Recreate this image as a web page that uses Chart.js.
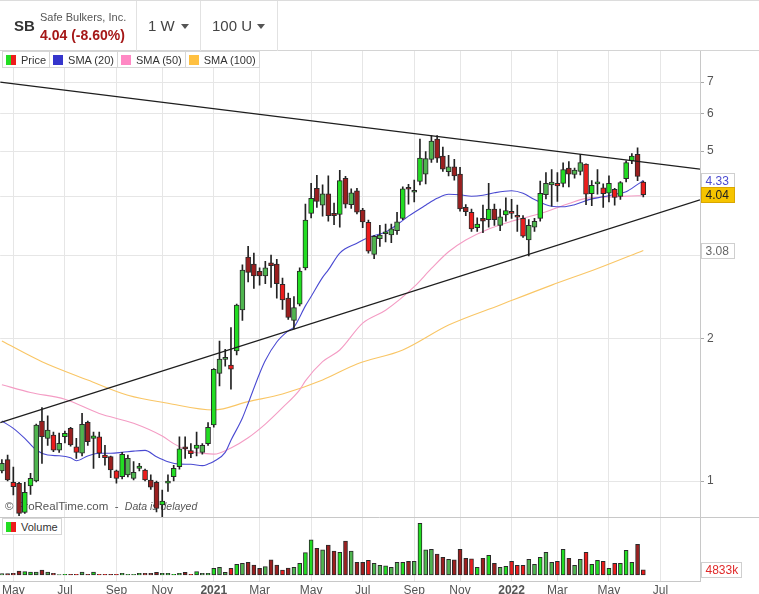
<!DOCTYPE html>
<html><head><meta charset="utf-8">
<script src="https://cdn.jsdelivr.net/npm/chart.js@4.4.1/dist/chart.umd.min.js"></script>
<style>
html,body{margin:0;padding:0;background:#fff;}
body{width:759px;height:594px;position:relative;overflow:hidden;font-family:"Liberation Sans",Arial,sans-serif;}
#c{position:absolute;left:0;top:0;}
.abs{position:absolute;white-space:nowrap;}
#hdr{position:absolute;left:0;top:0;width:759px;height:51px;box-sizing:border-box;border-top:1px solid #dcdcdc;border-bottom:1px solid #d4d4d4;background:#fff;}
.sep{position:absolute;top:0;width:1px;height:50px;background:#e2e2e2;}
.caret{position:absolute;width:0;height:0;border-left:4px solid transparent;border-right:4px solid transparent;border-top:5px solid #555;}
.leg{position:absolute;display:flex;border:1px solid #d6d6d6;background:#fff;font-size:11px;color:#333;height:15px;}
.it{display:flex;align-items:center;padding:0 3px 0 3px;border-left:1px solid #d6d6d6;height:15px;}
.it:first-child{border-left:none;}
.sw{display:inline-block;width:10px;height:10px;margin-right:5px;}
</style></head><body>
<canvas id="c" width="759" height="594"></canvas>

<div id="hdr">
  <div class="abs" style="left:14px;top:16px;font-size:15px;font-weight:bold;color:#333;">SB</div>
  <div class="abs" style="left:40px;top:10px;font-size:11px;color:#555;">Safe Bulkers, Inc.</div>
  <div class="abs" id="chg" style="left:40px;top:26px;font-size:14px;font-weight:bold;color:#a51717;"></div>
  <div class="sep" style="left:136px;"></div>
  <div class="abs" style="left:148px;top:16px;font-size:15px;color:#444;">1 W</div>
  <div class="caret" style="left:181px;top:23px;"></div>
  <div class="sep" style="left:200px;"></div>
  <div class="abs" style="left:212px;top:16px;font-size:15px;color:#444;">100 U</div>
  <div class="caret" style="left:257px;top:23px;"></div>
  <div class="sep" style="left:277px;"></div>
</div>

<div class="leg" style="left:2px;top:51px;">
  <div class="it"><span class="sw" style="background:linear-gradient(90deg,#22dd22 50%,#ee1c1c 50%)"></span>Price</div>
  <div class="it"><span class="sw" style="background:#3535cc"></span>SMA (20)</div>
  <div class="it"><span class="sw" style="background:#ff88c4"></span>SMA (50)</div>
  <div class="it"><span class="sw" style="background:#ffc040"></span>SMA (100)</div>
</div>

<div class="leg" style="left:2px;top:518px;">
  <div class="it"><span class="sw" style="background:linear-gradient(90deg,#22dd22 50%,#ee1c1c 50%)"></span>Volume</div>
</div>

<script>
// ---- weekly candles, starting week of 20 Apr 2020 (index 0) ----
const open = [1.05,1.11,0.994,0.989,0.858,0.976,1.0,1.34,1.231,1.251,
 1.163,1.241,1.293,1.182,1.145,1.331,1.231,1.241,1.135,1.126,
 1.051,1.021,1.03,1.013,1.064,1.055,1.005,0.994,0.89,0.99,
 1.021,1.072,1.182,1.16,1.173,1.15,1.20,1.314,1.69,1.81,
 1.76,1.886,2.303,2.98,2.88,2.78,2.72,2.90,2.88,2.61,
 2.44,2.19,2.37,2.827,3.69,4.17,3.84,4.06,3.69,3.67,
 4.38,3.85,4.12,3.75,3.53,3.02,3.26,3.34,3.32,3.39,
 3.60,4.17,4.09,4.31,4.47,4.80,5.30,4.88,4.52,4.63,
 4.47,3.80,3.71,3.44,3.60,3.58,3.77,3.48,3.66,3.70,
 3.64,3.60,3.24,3.45,3.60,4.04,4.24,4.27,4.27,4.60,
 4.46,4.53,4.69,4.06,4.26,4.18,4.07,4.15,4.01,4.37,
 4.77,4.92,4.30];
const high = [1.11,1.135,1.07,0.994,0.994,1.038,1.32,1.43,1.375,1.27,
 1.264,1.276,1.30,1.231,1.392,1.34,1.27,1.27,1.19,1.13,
 1.055,1.15,1.135,1.10,1.09,1.06,1.03,1.0,0.957,1.03,
 1.08,1.24,1.24,1.20,1.27,1.20,1.33,1.73,1.98,1.90,
 2.115,2.37,2.87,3.14,3.04,2.83,2.92,3.01,2.95,2.69,
 2.50,2.46,2.83,3.86,4.27,4.44,4.24,4.43,3.88,4.55,
 4.42,4.16,4.17,3.78,3.57,3.31,3.48,3.50,3.50,3.71,
 4.20,4.25,4.34,5.30,4.99,5.39,5.39,5.10,4.90,4.80,
 4.62,3.85,3.77,3.61,3.84,4.27,3.86,3.77,3.98,3.95,
 3.84,3.65,3.58,3.60,4.32,4.50,4.57,4.50,4.72,4.75,
 4.60,4.92,4.70,4.33,4.57,4.26,4.43,4.17,4.31,4.77,
 4.94,5.08,4.32];
const low = [1.04,1.0,0.934,0.844,0.854,0.937,0.995,1.09,1.19,1.154,
 1.15,1.204,1.185,1.117,1.13,1.19,1.064,1.12,1.08,1.016,
 0.989,1.01,1.02,1.005,1.05,1.0,0.96,0.86,0.84,0.95,
 1.0,1.06,1.117,1.12,1.13,1.14,1.19,1.30,1.59,1.75,
 1.565,1.85,2.19,2.64,2.56,2.60,2.62,2.57,2.44,2.31,
 2.20,2.10,2.35,2.80,3.61,3.80,3.64,3.55,3.49,3.45,
 3.79,3.78,3.68,3.44,3.04,2.96,3.14,3.21,3.20,3.33,
 3.58,3.86,3.90,4.24,4.26,4.73,4.73,4.53,4.43,4.34,
 3.73,3.65,3.38,3.38,3.36,3.45,3.48,3.39,3.55,3.60,
 3.38,3.28,3.00,3.38,3.55,3.96,3.82,3.91,4.20,4.20,
 4.38,4.45,3.85,3.83,4.05,3.80,3.90,3.84,3.95,4.30,
 4.70,4.33,4.00];
const close = [1.09,1.005,0.973,0.854,0.946,1.013,1.314,1.241,1.282,1.163,
 1.202,1.262,1.192,1.150,1.319,1.211,1.247,1.145,1.12,1.055,
 1.013,1.139,1.117,1.043,1.075,1.005,0.97,0.875,0.907,0.995,
 1.064,1.17,1.169,1.143,1.192,1.19,1.30,1.725,1.813,1.815,
 1.725,2.36,2.799,2.768,2.72,2.72,2.83,2.86,2.62,2.42,
 2.22,2.33,2.785,3.57,3.97,3.91,4.06,3.65,3.65,4.33,
 3.86,4.08,3.71,3.54,3.07,3.30,3.32,3.35,3.42,3.54,
 4.16,4.15,4.11,4.83,4.82,5.25,4.83,4.58,4.63,4.43,
 3.77,3.72,3.42,3.50,3.55,3.77,3.58,3.63,3.74,3.69,
 3.62,3.30,3.48,3.55,4.07,4.27,4.30,4.22,4.57,4.47,
 4.56,4.73,4.05,4.23,4.29,4.06,4.27,3.99,4.29,4.73,
 4.88,4.42,4.04];
// weekly volume, millions of shares
const volume = [1.2,1.2,1.5,3.7,3.1,2.8,2.8,4.6,2.8,1.5,
 0.4,0.6,0.6,0.6,2.8,0.6,2.8,0.6,0.6,0.6,
 0.6,1.5,0.6,0.6,1.5,1.5,1.5,2.5,1.5,1.5,
 0.6,1.5,2.5,0.6,3.1,1.5,1.5,6.2,7.1,2.5,
 6.2,9.9,10.9,11.8,9.3,6.2,7.8,14.0,9.3,4.6,
 6.5,7.1,10.9,20.8,32.6,24.8,23.3,27.9,22.3,21.1,
 31.6,22.3,11.8,11.8,13.6,10.9,9.0,8.4,7.1,11.8,
 11.8,12.7,12.7,48.0,23.3,23.9,19.5,16.4,14.6,14.0,
 23.9,15.5,14.9,7.1,15.5,18.3,10.9,7.1,8.1,12.7,
 9.0,9.0,14.6,9.9,16.4,21.1,11.8,12.7,23.9,15.5,
 9.0,14.6,21.1,9.9,13.6,12.7,6.2,10.9,10.9,23.0,
 11.8,28.5,4.833];

// moving averages (week index, value)
const sma20Idx = [0,2,4,6,8,10,12,13,15,17,19,21,23,25,27,29,31,33,35,36,37,39,40,42,43,45,46,48,50,51,53,54,56,57,59,62,64,67,69,71,74,76,78,80,82,84,86,89,91,93,96,98,100,103,105,107,109,111,112];
const sma20Val = [1.34,1.293,1.231,1.163,1.135,1.131,1.12,1.104,1.13,1.145,1.145,1.15,1.157,1.161,1.126,1.099,1.086,1.085,1.078,1.086,1.10,1.15,1.22,1.36,1.46,1.69,1.80,1.97,2.08,2.12,2.35,2.46,2.70,2.80,3.04,3.19,3.28,3.37,3.49,3.64,3.84,3.97,4.05,4.04,4.01,4.03,4.08,4.12,4.07,3.95,3.82,3.81,3.85,3.96,4.00,4.05,4.10,4.25,4.33];
const sma50Idx = [0,5,11,17,23,28,30,33,35,37,40,43,46,49,52,53,56,59,63,67,72,75,78,81,85,89,92,95,99,102,107,111,112];
const sma50Val = [1.60,1.54,1.49,1.39,1.325,1.245,1.20,1.154,1.145,1.14,1.175,1.235,1.32,1.43,1.56,1.63,1.79,1.895,2.16,2.30,2.58,2.82,3.06,3.24,3.42,3.55,3.63,3.72,3.87,3.97,4.0,4.02,4.02];
const sma100Idx = [0,7,15,22,29,37,43,49,56,62,70,78,87,96,104,112];
const sma100Val = [1.98,1.79,1.637,1.52,1.461,1.414,1.473,1.529,1.637,1.77,1.895,2.14,2.36,2.60,2.82,3.08];

// trend lines (end points at the chart edges)
const trendIdx = [-0.3, 121.9];
const trendUpper = [7.0, 4.58];
const trendLower = [1.33, 3.94];

// axis ticks
const monthTickIdx = [2,11,20,28,37,45,54,63,72,80,89,97,106,115];
const monthTickLabels = ['May','Jul','Sep','Nov','2021','Mar','May','Jul','Sep','Nov','2022','Mar','May','Jul'];
const priceTickVals = [1,2,3,4,5,6,7];
const priceTickLabels = ['1','2','','','5','6','7'];

// ---- header text from data ----
const last = close[close.length-1], prevC = close[close.length-2];
document.getElementById('chg').textContent = last.toFixed(2) + ' (' + ((last/prevC-1)*100).toFixed(2) + '%)';

const FONT = '"Liberation Sans", Arial, sans-serif';
Chart.defaults.font.family = FONT;

function candleColor(i){
  const prev = i > 0 ? close[i-1] : open[i];
  if (close[i] >= open[i]) return open[i] > prev ? '#22dd22' : '#4fb54f';
  return open[i] < prev ? '#ec1c1c' : '#9b1f1f';
}
const colors = open.map((_, i) => candleColor(i));
const pts = (idx, val) => idx.map((x, k) => ({x: x, y: val[k]}));

const overlay = {
  id: 'overlay',
  beforeDatasetsDraw(chart){
    const ctx = chart.ctx, y = chart.scales.y;
    ctx.save();
    ctx.textBaseline = 'middle'; ctx.textAlign = 'left'; ctx.fillStyle = '#555';
    const ty = Math.round(y.bottom) - 10;
    ctx.font = '11.5px ' + FONT;
    const t1 = '\u00A9 ProRealTime.com  -  ';
    ctx.fillText(t1, 5, ty);
    const w = ctx.measureText(t1).width;
    ctx.font = 'italic 10.5px ' + FONT;
    ctx.fillText('Data is delayed', 5 + w, ty);
    ctx.restore();
  },
  afterDraw(chart){
    const ctx = chart.ctx, ca = chart.chartArea;
    const y = chart.scales.y, yv = chart.scales.yv;
    ctx.save();
    ctx.strokeStyle = '#c8c8c8'; ctx.lineWidth = 1;
    const sepY = Math.round(yv.top) + 0.5;
    ctx.beginPath(); ctx.moveTo(0, sepY); ctx.lineTo(759, sepY); ctx.stroke();
    const lastVol = volume[volume.length-1];
    const boxes = [
      {s:y, v:sma20Val[sma20Val.length-1], t:sma20Val[sma20Val.length-1].toFixed(2), fg:'#4b4bcf', bg:'#fff', bd:'#cfcfcf', w:33},
      {s:y, v:sma100Val[sma100Val.length-1], t:sma100Val[sma100Val.length-1].toFixed(2), fg:'#666', bg:'#fff', bd:'#cfcfcf', w:33},
      {s:y, v:last, t:last.toFixed(2), fg:'#222', bg:'#f6c400', bd:'#d9a600', w:33},
      {s:yv, v:lastVol, t:Math.round(lastVol*1000)+'k', fg:'#e02a2a', bg:'#fff', bd:'#cfcfcf', w:40}
    ];
    ctx.font = '12px ' + FONT; ctx.textBaseline = 'middle'; ctx.textAlign = 'left';
    for (const b of boxes){
      const py = b.s.getPixelForValue(b.v);
      const x0 = Math.round(ca.right) + 1.5;
      const top = Math.round(py - 7.5) + 0.5;
      ctx.fillStyle = b.bg; ctx.fillRect(x0, top, b.w, 15);
      ctx.strokeStyle = b.bd; ctx.strokeRect(x0, top, b.w, 15);
      ctx.fillStyle = b.fg; ctx.fillText(b.t, x0 + 4, top + 8);
    }
    ctx.restore();
  }
};

new Chart(document.getElementById('c'), {
  data: {
    datasets: [
      {type:'line', label:'trendU', data:pts(trendIdx, trendUpper), yAxisID:'y', borderColor:'#1e1e1e', borderWidth:1.3, pointRadius:0, order:0},
      {type:'line', label:'trendL', data:pts(trendIdx, trendLower), yAxisID:'y', borderColor:'#1e1e1e', borderWidth:1.3, pointRadius:0, order:0},
      {type:'bar', label:'body', data:open.map((o,i)=>({x:i, y:[o, close[i]]})), yAxisID:'y',
        backgroundColor:colors, borderColor:'#2a2a2a', borderWidth:1, borderSkipped:false,
        barThickness:5, minBarLength:2, grouped:false, order:1},
      {type:'bar', label:'wick', data:low.map((l,i)=>({x:i, y:[l, high[i]]})), yAxisID:'y',
        backgroundColor:'#222', borderWidth:0, barThickness:1, grouped:false, order:2},
      {type:'line', label:'SMA20', data:pts(sma20Idx, sma20Val), yAxisID:'y', borderColor:'#4a4ad2', borderWidth:1.1, pointRadius:0, cubicInterpolationMode:'monotone', order:3},
      {type:'line', label:'SMA50', data:pts(sma50Idx, sma50Val), yAxisID:'y', borderColor:'#f49cc4', borderWidth:1.1, pointRadius:0, cubicInterpolationMode:'monotone', order:3},
      {type:'line', label:'SMA100', data:pts(sma100Idx, sma100Val), yAxisID:'y', borderColor:'#f9c666', borderWidth:1.1, pointRadius:0, cubicInterpolationMode:'monotone', order:3},
      {type:'bar', label:'vol', data:volume.map((v,i)=>({x:i, y:v})), yAxisID:'yv',
        backgroundColor:colors, borderColor:'#2a2a2a', borderWidth:1, borderSkipped:false,
        barThickness:4, grouped:false, order:1}
    ]
  },
  options: {
    responsive:false, animation:false, events:[],
    layout:{padding:{left:0, right:2, top:51, bottom:0}},
    plugins:{legend:{display:false}, tooltip:{enabled:false}},
    scales: {
      x: {
        type:'linear', min:-0.3, max:121.9, bounds:'data', offset:false,
        grid:{color:'#e6e6e6', drawTicks:false, offset:false},
        border:{display:true, color:'#c8c8c8'},
        afterBuildTicks: s => { s.ticks = monthTickIdx.map(v => ({value:v})); },
        afterFit: s => { s.height = 13; },
        ticks:{autoSkip:false, maxRotation:0, padding:2, color:'#555',
          font: c => ({size:12, family:FONT, weight: /^\d{4}$/.test(monthTickLabels[c.index] || '') ? 'bold' : 'normal'}),
          callback: (v, i) => monthTickLabels[i]}
      },
      y: {
        type:'logarithmic', position:'right', stack:'panes', stackWeight:466,
        min:0.839, max:8.147, bounds:'data',
        grid:{color:'#e6e6e6', tickLength:4, tickColor:'#aaaaaa'},
        border:{display:true, color:'#c8c8c8'},
        afterBuildTicks: s => { s.ticks = priceTickVals.map(v => ({value:v})); },
        afterFit: s => { s.width = 57; },
        ticks:{padding:3, color:'#555', font:{size:12}, callback:(v, i) => priceTickLabels[i]}
      },
      yv: {
        type:'linear', position:'right', stack:'panes', stackWeight:64,
        min:-5.6, max:53.9, bounds:'data',
        grid:{display:false}, border:{display:true, color:'#c8c8c8'},
        afterFit: s => { s.width = 57; },
        ticks:{display:false}
      }
    }
  },
  plugins:[overlay]
});
</script>
</body></html>
